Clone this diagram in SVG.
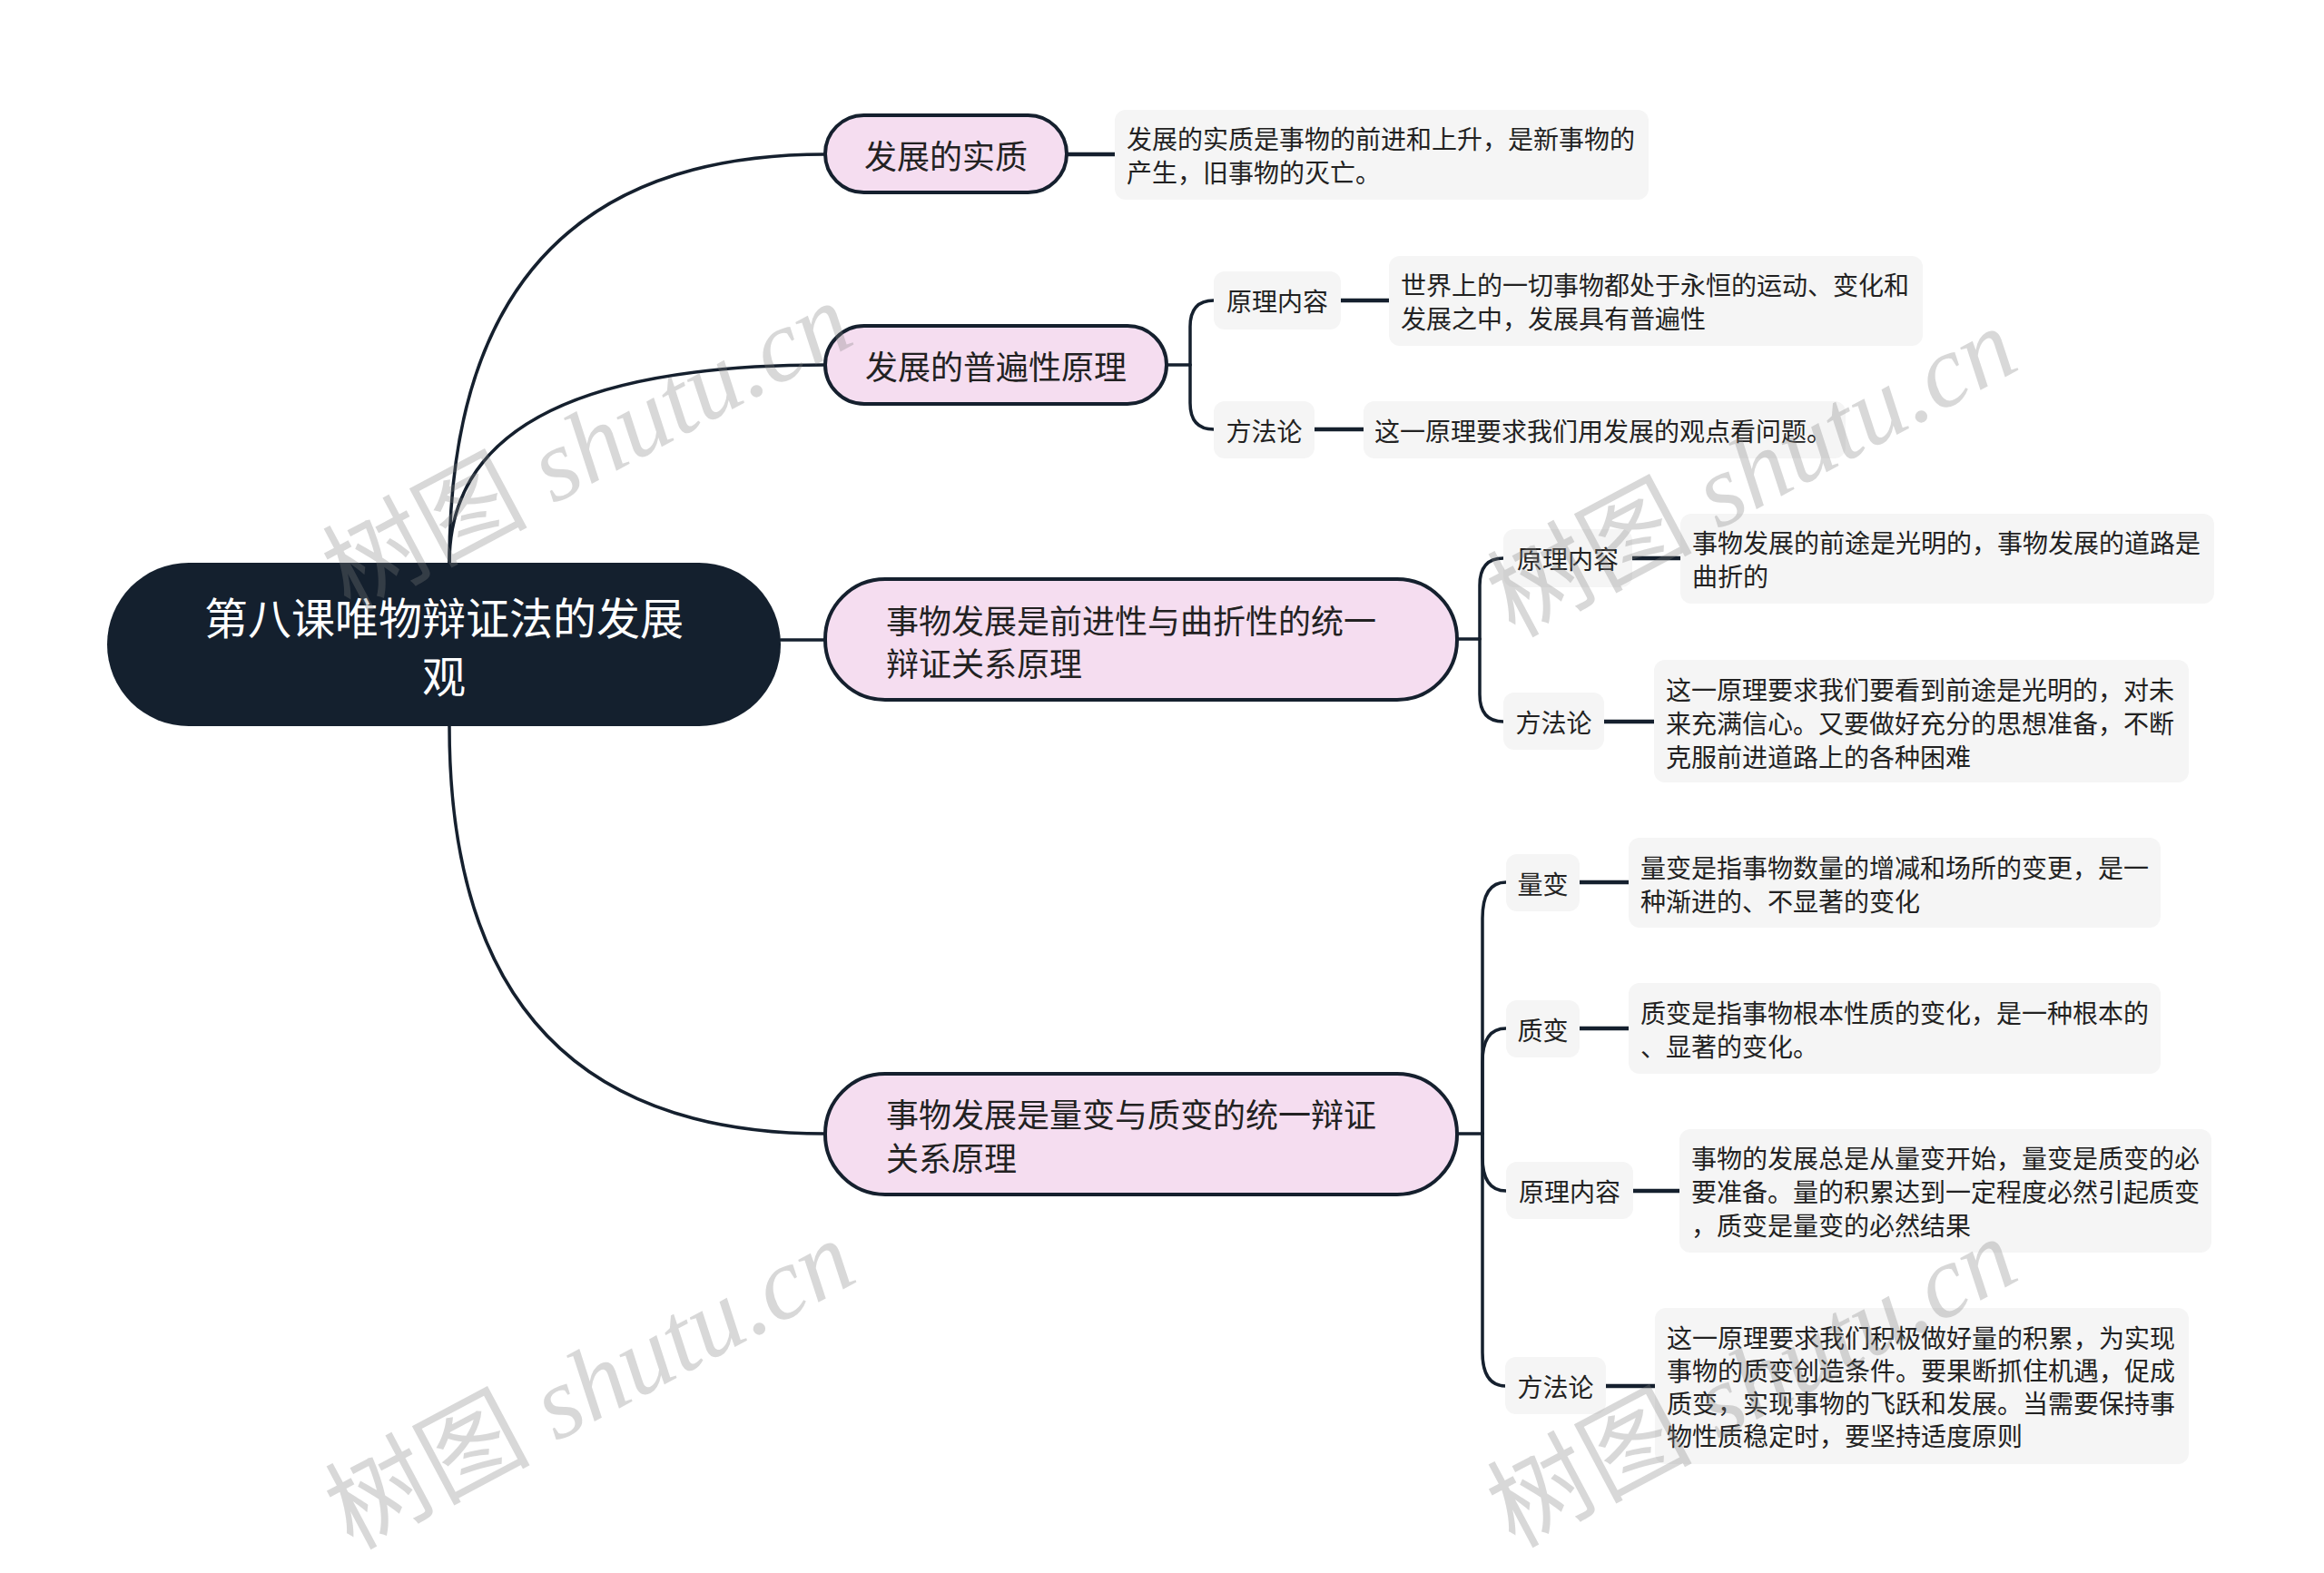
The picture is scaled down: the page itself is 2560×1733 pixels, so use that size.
<svg xmlns="http://www.w3.org/2000/svg" width="2560" height="1733" viewBox="0 0 2560 1733">
<style>
.conn{fill:none;stroke:#15202e;stroke-width:3.5;stroke-linecap:round}
.lk{fill:none;stroke:#15202e;stroke-width:4.5}
.root{fill:#14202e}
.main{fill:#f5ddf0;stroke:#15202e;stroke-width:4}
.lab{fill:#f5f5f5}
.desc{fill:#f5f5f5}
text{font-family:"Noto Sans CJK SC","Noto Sans",sans-serif;dominant-baseline:central}
.rt{font-size:48px;fill:#ffffff;text-anchor:middle}
.mt{font-size:36px;fill:#222222}
.lt{font-size:28px;fill:#222222;text-anchor:middle}
.dt{font-size:28px;fill:#222222}
.wm{font-family:"Liberation Serif","Noto Sans CJK SC",serif;font-size:113px;fill:#808080;opacity:0.3;dominant-baseline:alphabetic}
</style>
<rect width="2560" height="1733" fill="#ffffff"/>
<g id="connectors">
<path class="conn" d="M495 620 Q495 170 909 170"/>
<path class="conn" d="M495 620 Q495 402 909 402"/>
<path class="conn" d="M860 705 L909 705"/>
<path class="conn" d="M495 800 Q495 1249 909 1249"/>
<path class="lk" d="M1175 170 L1228 170"/>
<path class="conn" d="M1285 402 L1311 402"/>
<path class="conn" d="M1311 402 V360 Q1311 331 1337 331"/>
<path class="conn" d="M1311 402 V444 Q1311 473 1337 473"/>
<path class="lk" d="M1476 331 L1530 331"/>
<path class="lk" d="M1447 473 L1502 473"/>
<path class="conn" d="M1605 704 L1630 704"/>
<path class="conn" d="M1630 704 V645 Q1630 615 1656 615"/>
<path class="conn" d="M1630 704 V765 Q1630 795 1656 795"/>
<path class="lk" d="M1798 615 L1851 615"/>
<path class="lk" d="M1767 795 L1822 795"/>
<path class="conn" d="M1605 1249 L1633 1249"/>
<path class="conn" d="M1633 1249 V1012 Q1633 972 1659 972"/>
<path class="conn" d="M1633 1249 V1170 Q1633 1133 1659 1133"/>
<path class="conn" d="M1633 1249 V1275 Q1633 1312 1659 1312"/>
<path class="conn" d="M1633 1249 V1490 Q1633 1527 1659 1527"/>
<path class="lk" d="M1740 972 L1794 972"/>
<path class="lk" d="M1740 1133 L1794 1133"/>
<path class="lk" d="M1799 1312 L1850 1312"/>
<path class="lk" d="M1769 1527 L1823 1527"/>
</g>
<g id="root">
<rect class="root" x="118" y="620" width="742" height="180" rx="90"/>
<text class="rt" x="489" y="678">第八课唯物辩证法的发展</text>
<text class="rt" x="489" y="742">观</text>
</g>
<g id="n1">
<rect class="main" x="909" y="127" width="266" height="85" rx="42.5"/>
<text class="mt" x="1042" y="170" text-anchor="middle">发展的实质</text>
</g>
<g id="n1d">
<rect class="desc" x="1228" y="121" width="588" height="99" rx="12"/>
<text class="dt" x="1241" y="152">发展的实质是事物的前进和上升，是新事物的</text>
<text class="dt" x="1241" y="189">产生，旧事物的灭亡。</text>
</g>
<g id="n2">
<rect class="main" x="909" y="359" width="376" height="86" rx="43"/>
<text class="mt" x="1097" y="402" text-anchor="middle">发展的普遍性原理</text>
</g>
<g id="n2a">
<rect class="lab" x="1337" y="299" width="140" height="64" rx="12"/>
<text class="lt" x="1407" y="331">原理内容</text>
</g>
<g id="n2ad">
<rect class="desc" x="1530" y="282" width="588" height="99" rx="12"/>
<text class="dt" x="1543" y="313">世界上的一切事物都处于永恒的运动、变化和</text>
<text class="dt" x="1543" y="350">发展之中，发展具有普遍性</text>
</g>
<g id="n2b">
<rect class="lab" x="1337" y="442" width="111" height="63" rx="12"/>
<text class="lt" x="1392.5" y="473.5">方法论</text>
</g>
<g id="n2bd">
<rect class="desc" x="1502" y="442" width="531" height="63" rx="12"/>
<text class="dt" x="1514" y="473.5">这一原理要求我们用发展的观点看问题。</text>
</g>
<g id="n3">
<rect class="main" x="909" y="638" width="696" height="133" rx="66"/>
<text class="mt" x="976" y="682">事物发展是前进性与曲折性的统一</text>
<text class="mt" x="976" y="729">辩证关系原理</text>
</g>
<g id="n3a">
<rect class="lab" x="1656" y="583" width="142" height="64" rx="12"/>
<text class="lt" x="1727" y="615">原理内容</text>
</g>
<g id="n3ad">
<rect class="desc" x="1851" y="566" width="588" height="99" rx="12"/>
<text class="dt" x="1864" y="597">事物发展的前途是光明的，事物发展的道路是</text>
<text class="dt" x="1864" y="634">曲折的</text>
</g>
<g id="n3b">
<rect class="lab" x="1656" y="763" width="111" height="63" rx="12"/>
<text class="lt" x="1711.5" y="795">方法论</text>
</g>
<g id="n3bd">
<rect class="desc" x="1822" y="727" width="589" height="135" rx="12"/>
<text class="dt" x="1835" y="759">这一原理要求我们要看到前途是光明的，对未</text>
<text class="dt" x="1835" y="796">来充满信心。又要做好充分的思想准备，不断</text>
<text class="dt" x="1835" y="833">克服前进道路上的各种困难</text>
</g>
<g id="n4">
<rect class="main" x="909" y="1183" width="696" height="133" rx="66"/>
<text class="mt" x="976" y="1226">事物发展是量变与质变的统一辩证</text>
<text class="mt" x="976" y="1274">关系原理</text>
</g>
<g id="n4a">
<rect class="lab" x="1659" y="941" width="81" height="63" rx="12"/>
<text class="lt" x="1699.5" y="972.5">量变</text>
</g>
<g id="n4ad">
<rect class="desc" x="1794" y="923" width="586" height="99" rx="12"/>
<text class="dt" x="1807" y="955">量变是指事物数量的增减和场所的变更，是一</text>
<text class="dt" x="1807" y="992">种渐进的、不显著的变化</text>
</g>
<g id="n4b">
<rect class="lab" x="1659" y="1102" width="81" height="63" rx="12"/>
<text class="lt" x="1699.5" y="1133.5">质变</text>
</g>
<g id="n4bd">
<rect class="desc" x="1794" y="1083" width="586" height="100" rx="12"/>
<text class="dt" x="1807" y="1115">质变是指事物根本性质的变化，是一种根本的</text>
<text class="dt" x="1807" y="1152">、显著的变化。</text>
</g>
<g id="n4c">
<rect class="lab" x="1659" y="1280" width="140" height="63" rx="12"/>
<text class="lt" x="1729" y="1311.5">原理内容</text>
</g>
<g id="n4cd">
<rect class="desc" x="1850" y="1244" width="586" height="136" rx="12"/>
<text class="dt" x="1863" y="1275">事物的发展总是从量变开始，量变是质变的必</text>
<text class="dt" x="1863" y="1312">要准备。量的积累达到一定程度必然引起质变</text>
<text class="dt" x="1863" y="1349">，质变是量变的必然结果</text>
</g>
<g id="n4d">
<rect class="lab" x="1658" y="1495" width="111" height="63" rx="12"/>
<text class="lt" x="1713.5" y="1526.5">方法论</text>
</g>
<g id="n4dd">
<rect class="desc" x="1823" y="1441" width="588" height="172" rx="12"/>
<text class="dt" x="1836" y="1473">这一原理要求我们积极做好量的积累，为实现</text>
<text class="dt" x="1836" y="1509">事物的质变创造条件。要果断抓住机遇，促成</text>
<text class="dt" x="1836" y="1545">质变，实现事物的飞跃和发展。当需要保持事</text>
<text class="dt" x="1836" y="1581">物性质稳定时，要坚持适度原则</text>
</g>
<g id="watermarks">
<text class="wm" x="385" y="675" transform="rotate(-28 385 675)">树图 <tspan font-style="italic">shutu.cn</tspan></text>
<text class="wm" x="1668" y="703" transform="rotate(-28 1668 703)">树图 <tspan font-style="italic">shutu.cn</tspan></text>
<text class="wm" x="388" y="1708" transform="rotate(-28 388 1708)">树图 <tspan font-style="italic">shutu.cn</tspan></text>
<text class="wm" x="1668" y="1706" transform="rotate(-28 1668 1706)">树图 <tspan font-style="italic">shutu.cn</tspan></text>
</g>
</svg>
